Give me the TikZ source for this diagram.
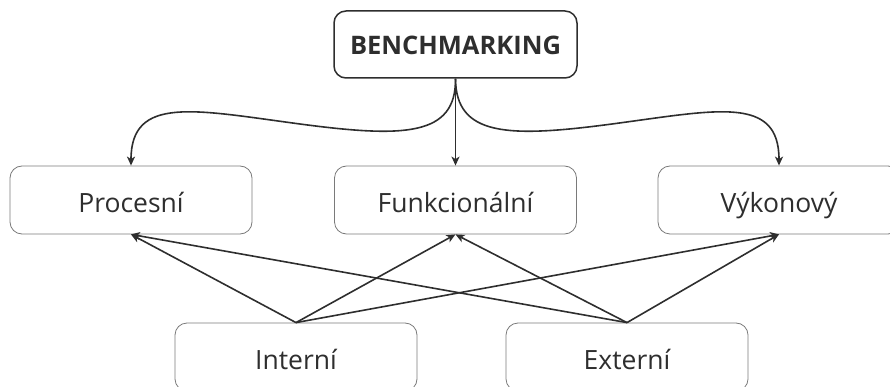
\documentclass[tikz,border=0pt]{standalone}
\usepackage{fontspec}
\setmainfont{Open Sans}
\usetikzlibrary{arrows.meta}
\definecolor{ink}{HTML}{2E2E2E}
\definecolor{frame}{HTML}{7A7A7A}
\tikzset{
  catbox/.style={draw=frame, line width=0.8pt, rounded corners=12pt, fill=white,
    minimum width=242pt, minimum height=68pt, inner sep=0pt, text=ink,
    text height=26pt, text depth=2pt,
    font=\fontsize{26.5}{30}\selectfont},
  rootbox/.style={draw=ink, line width=1.5pt, rounded corners=12pt, fill=white,
    minimum width=243pt, minimum height=67pt, inner sep=0pt, text=ink,
    text height=23pt, text depth=2pt,
    font=\bfseries\fontsize{25.5}{30}\selectfont},
  conn/.style={draw=ink, line width=1.6pt, -{Stealth[length=9pt,width=8pt,inset=2.5pt]}}
}
\begin{document}
\begin{tikzpicture}[x=1pt,y=-1pt]
\useasboundingbox (0,0) rectangle (890,387);
\clip (0,0) rectangle (890,387);
\node[rootbox] (root) at (455.5,44.5) {BENCHMARKING};
\node[catbox] (proc) at (131,200) {Procesní};
\node[catbox] (funk) at (455.5,200) {Funkcionální};
\node[catbox] (vyk) at (779,200) {Výkonový};
\node[catbox] (int) at (296,357) {Interní};
\node[catbox] (ext) at (627,357) {Externí};
% top connectors
\draw[conn] (root.south) .. controls (456,136) and (405,138) .. (300,124)
  .. controls (195,110) and (131,95) .. (proc.north);
\draw[conn] (root.south) -- (funk.north);
\draw[conn] (root.south) .. controls (456,136) and (507,138) .. (612,124)
  .. controls (717,110) and (779,95) .. (vyk.north);
% bottom connectors
\draw[conn] (int.north) -- (proc.south);
\draw[conn] (int.north) -- (funk.south);
\draw[conn] (int.north) -- (vyk.south);
\draw[conn] (ext.north) -- (proc.south);
\draw[conn] (ext.north) -- (funk.south);
\draw[conn] (ext.north) -- (vyk.south);
\end{tikzpicture}
\end{document}
